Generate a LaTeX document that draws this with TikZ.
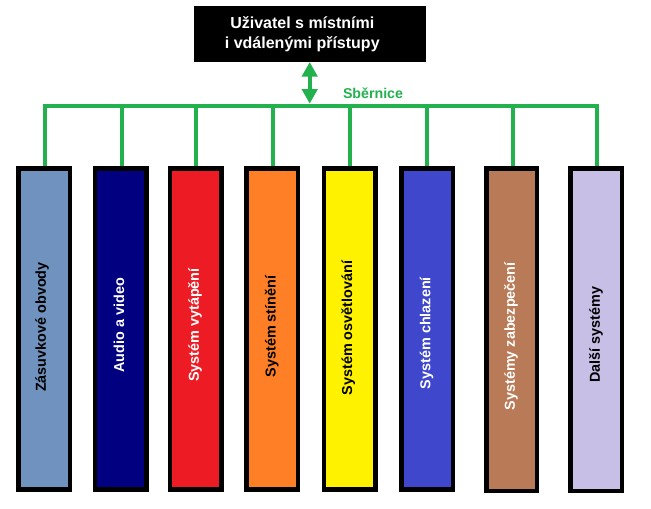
\documentclass[tikz,border=0pt]{standalone}
\usepackage{fontspec}
\setmainfont{Liberation Sans}
\usetikzlibrary{arrows.meta}
\definecolor{busgreen}{HTML}{22B14C}
\definecolor{c1}{HTML}{7092BE}
\definecolor{c2}{HTML}{000080}
\definecolor{c3}{HTML}{ED1C24}
\definecolor{c4}{HTML}{FF7F27}
\definecolor{c5}{HTML}{FFF200}
\definecolor{c6}{HTML}{3F48CC}
\definecolor{c7}{HTML}{B97A57}
\definecolor{c8}{HTML}{C8BFE7}
\tikzset{
  x=1pt,y=-1pt,
  sysbox/.style={draw=black,line width=4.5pt,rectangle,minimum width=51.5pt,minimum height=321.2pt,outer sep=0pt,inner sep=0pt},
  syslabel/.style={rotate=90,font=\bfseries\fontsize{14.4}{16}\selectfont,inner sep=0pt},
  busline/.style={draw=busgreen,line width=4pt,line cap=rect},
  dropline/.style={draw=busgreen,line width=4pt,shorten >=2.25pt},
  usernode/.style={fill=black,inner sep=0pt,outer sep=0pt,minimum width=232pt,minimum height=56pt},
  userlabel/.style={text=white,align=center,inner sep=0pt,font=\bfseries\fontsize{16}{19.7}\selectfont},
  buslabel/.style={text=busgreen,inner sep=0pt,font=\bfseries\fontsize{14.2}{16}\selectfont},
  access/.style={draw=busgreen,line width=4pt,shorten >=2pt,{Triangle[width=15.3pt,length=14.7pt]}-{Triangle[width=15.3pt,length=14.7pt]}},
}
\begin{document}
\begin{tikzpicture}
\useasboundingbox (0,0) rectangle (651,509);
\node[usernode] (user) at (309.7,34) {};
\node[userlabel] (userlab) at (302.3,34.5) {Uživatel s místními\\i vdálenými přístupy};
\node[sysbox,fill=c1] (b1) at (44,328.85) {};
\node[sysbox,fill=c2] (b2) at (120.6,328.85) {};
\node[sysbox,fill=c3] (b3) at (195.8,328.85) {};
\node[sysbox,fill=c4] (b4) at (272.2,328.85) {};
\node[sysbox,fill=c5] (b5) at (349.7,328.85) {};
\node[sysbox,fill=c6] (b6) at (427.3,328.85) {};
\node[sysbox,fill=c7,minimum width=50.5pt,minimum height=322.5pt] (b7) at (511.8,329.5) {};
\node[sysbox,fill=c8,minimum height=322.5pt] (b8) at (596.3,329.5) {};
\node[syslabel,text=black] (t1) at (42,327) {Zásuvkové obvody};
\node[syslabel,text=white] (t2) at (119,325.3) {Audio a video};
\node[syslabel,text=white] (t3) at (195,325) {Systém vytápění};
\node[syslabel,text=black] (t4) at (271.7,326.5) {Systém stínění};
\node[syslabel,text=black] (t5) at (348.3,328) {Systém osvětlování};
\node[syslabel,text=white] (t6) at (426.7,333) {Systém chlazení};
\node[syslabel,text=white] (t7) at (511,336.3) {Systémy zabezpečení};
\node[syslabel,text=black] (t8) at (596,334.7) {Další systémy};
\coordinate (j1) at (44.5,105.7);
\coordinate (j2) at (122,105.7);
\coordinate (j3) at (195.7,105.7);
\coordinate (j4) at (272.7,105.7);
\coordinate (j5) at (350,105.7);
\coordinate (j6) at (427,105.7);
\coordinate (j7) at (512.7,105.7);
\coordinate (j8) at (596.7,105.7);
\coordinate (ja) at (309.7,105.7);
\draw[busline] (j1) -- (j8);
\foreach \i in {1,...,8} \draw[dropline] (j\i) -- (j\i |- b\i.north);
\draw[access] (user.south -| ja) -- (ja);
\node[buslabel] (buslab) at (373,93) {Sběrnice};
\end{tikzpicture}
\end{document}
